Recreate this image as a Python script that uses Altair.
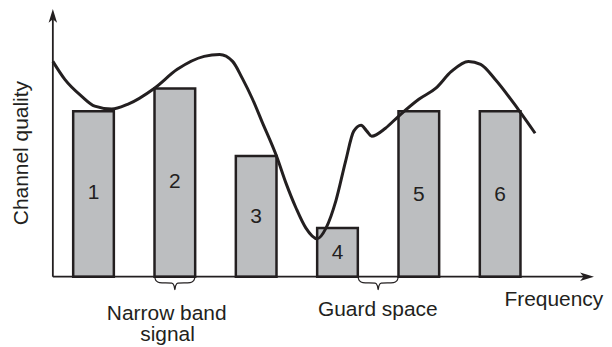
import altair as alt
import pandas as pd

# ---- data (x in channel-spacing units, y in quality units) ----
bar_labels = ["1", "2", "3", "4", "5", "6"]
bar_centers = [0.5, 1.5, 2.5, 3.5, 4.5, 5.5]
bar_heights = [6.24, 7.1, 4.55, 1.84, 6.24, 6.24]
bar_label_y = [2.93, 3.35, 2.03, 0.68, 2.86, 2.86]
bar_width = 0.5

curve_x = [0.0, 0.147, 0.355, 0.515, 0.723, 0.919, 1.25, 1.53, 1.86, 2.05,
           2.21, 2.33, 2.45, 2.57, 2.75, 2.87, 2.99, 3.11, 3.25, 3.36,
           3.48, 3.60, 3.70, 3.79, 3.86, 3.92, 4.09, 4.25, 4.50, 4.71,
           4.90, 5.11, 5.26, 5.44, 5.72, 5.93]
curve_y = [8.12, 7.44, 6.80, 6.43, 6.32, 6.50, 7.11, 7.82, 8.31, 8.38,
           8.12, 7.48, 6.73, 5.86, 4.55, 3.50, 2.59, 1.84, 1.43, 1.84,
           2.86, 4.36, 5.49, 5.71, 5.49, 5.30, 5.60, 6.05, 6.69, 7.11,
           7.74, 8.12, 8.01, 7.44, 6.32, 5.41]

text_labels = ["Narrow band", "signal", "Guard space", "Frequency"]
text_x = [1.40, 1.41, 3.995, 6.16]
text_y = [-1.62, -2.42, -1.47, -1.09]

axis_label = "Channel quality"
x_axis_end = 6.654
y_axis_end = 10.1

# ---- scales: map units onto the canvas ----
W, H = 596, 320
PX_X, PX_Y = 81.6, 26.6          # pixels per unit
X0, Y0 = 45, 268                 # origin inside the canvas
xs = alt.Scale(domain=[-X0 / PX_X, (W - X0) / PX_X], nice=False, zero=False)
ys = alt.Scale(domain=[(Y0 - H) / PX_Y, Y0 / PX_Y], nice=False, zero=False)

INK = "#231f20"
FONT = "Liberation Sans"
FS = 21

bars = pd.DataFrame({
    "label": bar_labels,
    "x0": [c - bar_width / 2 for c in bar_centers],
    "x1": [c + bar_width / 2 for c in bar_centers],
    "h": bar_heights,
    "c": bar_centers,
    "ly": bar_label_y,
})
curve = pd.DataFrame({"x": curve_x, "y": curve_y, "o": range(len(curve_x))})
texts = pd.DataFrame({"t": text_labels, "x": text_x, "y": text_y})


# braces derived from bar edges (profile in pixels, converted to units)
def brace_units(xl_u, xr_u, bid):
    xl, xr = xl_u * PX_X, xr_u * PX_X
    xm = (xl + xr) / 2
    prof = [(xl, 0), (xl + 1.5, -4), (xl + 5, -6), (xm - 3, -6.5), (xm - 0.8, -9),
            (xm, -13), (xm + 0.8, -9), (xm + 3, -6.5), (xr - 5, -6), (xr - 1.5, -4), (xr, 0)]
    return [{"b": bid, "o": i, "x": px / PX_X, "y": py / PX_Y} for i, (px, py) in enumerate(prof)]


braces = pd.DataFrame(
    brace_units(bars.x0[1], bars.x1[1], "a") + brace_units(bars.x1[3], bars.x0[4], "b")
)

axes_df = pd.DataFrame({
    "x": [0, 0], "y": [0, 0],
    "x2": [x_axis_end - 0.08, 0], "y2": [0, y_axis_end - 0.3],
})
arrows = pd.DataFrame({"x": [x_axis_end, 0], "y": [0, y_axis_end], "a": [90, 0]})

axis_lines = alt.Chart(axes_df).mark_rule(color=INK, strokeWidth=1.8).encode(
    x=alt.X("x:Q", scale=xs, axis=None), y=alt.Y("y:Q", scale=ys, axis=None),
    x2="x2:Q", y2="y2:Q")

arrowheads = alt.Chart(arrows).mark_point(
    shape="M0,0L0.55,1.8L0,1.35L-0.55,1.8Z", filled=True, opacity=1,
    color=INK, size=240, strokeWidth=0).encode(
    x=alt.X("x:Q", scale=xs, axis=None), y=alt.Y("y:Q", scale=ys, axis=None),
    angle=alt.Angle("a:Q", scale=None))

bar_layer = alt.Chart(bars).mark_rect(
    fill="#bcbec0", stroke=INK, strokeWidth=2.5).encode(
    x=alt.X("x0:Q", scale=xs, axis=None), x2="x1:Q",
    y=alt.Y("h:Q", scale=ys, axis=None), y2=alt.datum(0))

bar_text = alt.Chart(bars).mark_text(
    font=FONT, fontSize=FS, color=INK, baseline="alphabetic", align="center").encode(
    x=alt.X("c:Q", scale=xs, axis=None), y=alt.Y("ly:Q", scale=ys, axis=None),
    text="label:N")

curve_layer = alt.Chart(curve).mark_line(
    color=INK, strokeWidth=3, interpolate="monotone").encode(
    x=alt.X("x:Q", scale=xs, axis=None), y=alt.Y("y:Q", scale=ys, axis=None),
    order="o:Q")

brace_layer = alt.Chart(braces).mark_line(
    color=INK, strokeWidth=1.2, interpolate="monotone").encode(
    x=alt.X("x:Q", scale=xs, axis=None), y=alt.Y("y:Q", scale=ys, axis=None),
    detail="b:N", order="o:Q")

text_layer = alt.Chart(texts).mark_text(
    font=FONT, fontSize=FS, color=INK, baseline="alphabetic", align="center").encode(
    x=alt.X("x:Q", scale=xs, axis=None), y=alt.Y("y:Q", scale=ys, axis=None),
    text="t:N")

ylab = alt.Chart(pd.DataFrame({"t": [axis_label], "x": [-0.31], "y": [4.66]})).mark_text(
    font=FONT, fontSize=FS, color=INK, baseline="alphabetic", align="center", angle=270).encode(
    x=alt.X("x:Q", scale=xs, axis=None), y=alt.Y("y:Q", scale=ys, axis=None),
    text="t:N")

chart = alt.layer(
    bar_layer, bar_text, curve_layer, brace_layer, axis_lines, arrowheads, text_layer, ylab
).properties(width=W, height=H, padding=0).configure_view(stroke=None)

chart.save("out.html", embed_options={"renderer": "svg", "actions": False})
